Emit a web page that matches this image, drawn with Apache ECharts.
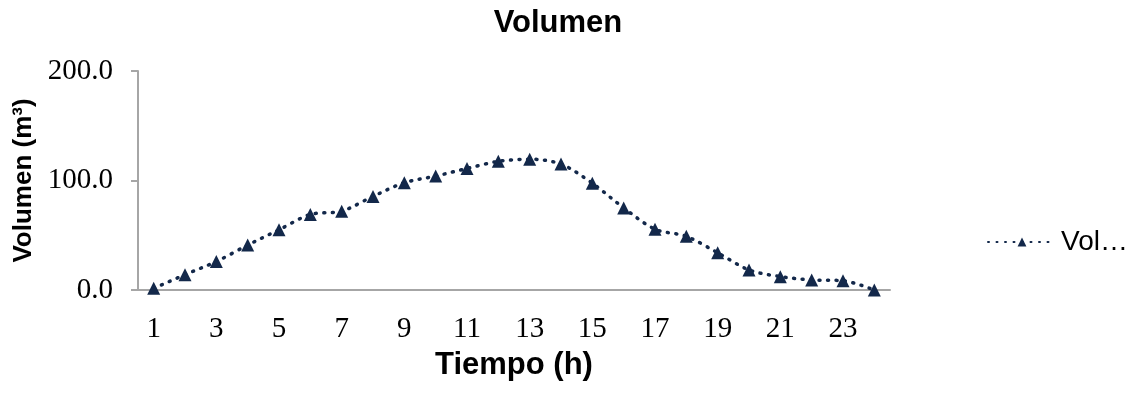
<!DOCTYPE html>
<html>
<head>
<meta charset="utf-8">
<script src="https://cdn.jsdelivr.net/npm/echarts@6/dist/echarts.min.js"></script>
<style>
  html, body { margin: 0; padding: 0; background: #fff; }
  #chart { width: 1139px; height: 393px; }
</style>
</head>
<body>
<div id="chart"></div>
<script>
// Datos del gráfico
const horas = ['1', '2', '3', '4', '5', '6', '7', '8', '9', '10', '11', '12',
  '13', '14', '15', '16', '17', '18', '19', '20', '21', '22', '23', '24'];
const volumen = [1.5, 14, 26, 41, 55, 69, 72, 85.5, 98, 104, 111, 117.5,
  119.5, 115, 97.5, 75, 55.5, 49, 34, 18.3, 12.2, 9.2, 8.5, 0];
const yTicks = [0, 100, 200];

const chartInstance = echarts.init(document.getElementById('chart'));

const colorSerie = '#13284a';
const ejeColor = '#a6a6a6';

const options = {
  animation: false,
  title: {
    text: 'Volumen',
    left: 553,
    textAlign: 'center',
    top: 3,
    textStyle: { fontFamily: 'Liberation Sans', fontSize: 31, fontWeight: 'bold', color: '#000' }
  },
  legend: {
    data: ['Volumen'],
    left: 982,
    top: 223,
    itemWidth: 68,
    itemHeight: 11,
    formatter: name => name.slice(0, 3) + '…',
    textStyle: { fontFamily: 'Liberation Sans', fontSize: 28, color: '#000' }
  },
  grid: {
    left: 138,
    right: 249,
    top: 71,
    bottom: 103
  },
  xAxis: {
    type: 'category',
    data: horas,
    boundaryGap: true,
    name: 'Tiempo (h)',
    nameLocation: 'middle',
    nameGap: 60,
    nameTextStyle: { fontFamily: 'Liberation Sans', fontSize: 31, fontWeight: 'bold', color: '#000' },
    axisLine: { lineStyle: { color: ejeColor, width: 2 } },
    axisTick: { show: false },
    axisLabel: {
      interval: 1,
      margin: 25,
      fontFamily: 'Liberation Serif',
      fontSize: 29,
      color: '#000'
    }
  },
  yAxis: {
    type: 'value',
    min: yTicks[0],
    max: yTicks[yTicks.length - 1],
    interval: yTicks[1] - yTicks[0],
    name: 'Volumen (m³)',
    nameLocation: 'middle',
    nameGap: 97,
    nameTextStyle: { fontFamily: 'Liberation Sans', fontSize: 26, fontWeight: 'bold', color: '#000' },
    axisLine: { show: true, lineStyle: { color: ejeColor, width: 2 } },
    axisTick: { show: true, length: 7, lineStyle: { color: ejeColor, width: 2 } },
    splitLine: { show: false },
    axisLabel: {
      margin: 25,
      fontFamily: 'Liberation Serif',
      fontSize: 29,
      color: '#000',
      formatter: v => v.toFixed(1)
    }
  },
  series: [
    {
      name: 'Volumen',
      type: 'line',
      data: volumen,
      smooth: 0.3,
      symbol: 'triangle',
      symbolSize: 13,
      itemStyle: { color: colorSerie },
      lineStyle: { color: colorSerie, width: 3.5, type: [1, 7.5], cap: 'round' }
    }
  ]
};

chartInstance.setOption(options);

window.addEventListener('resize', () => {
  chartInstance.resize();
});
</script>
</body>
</html>
